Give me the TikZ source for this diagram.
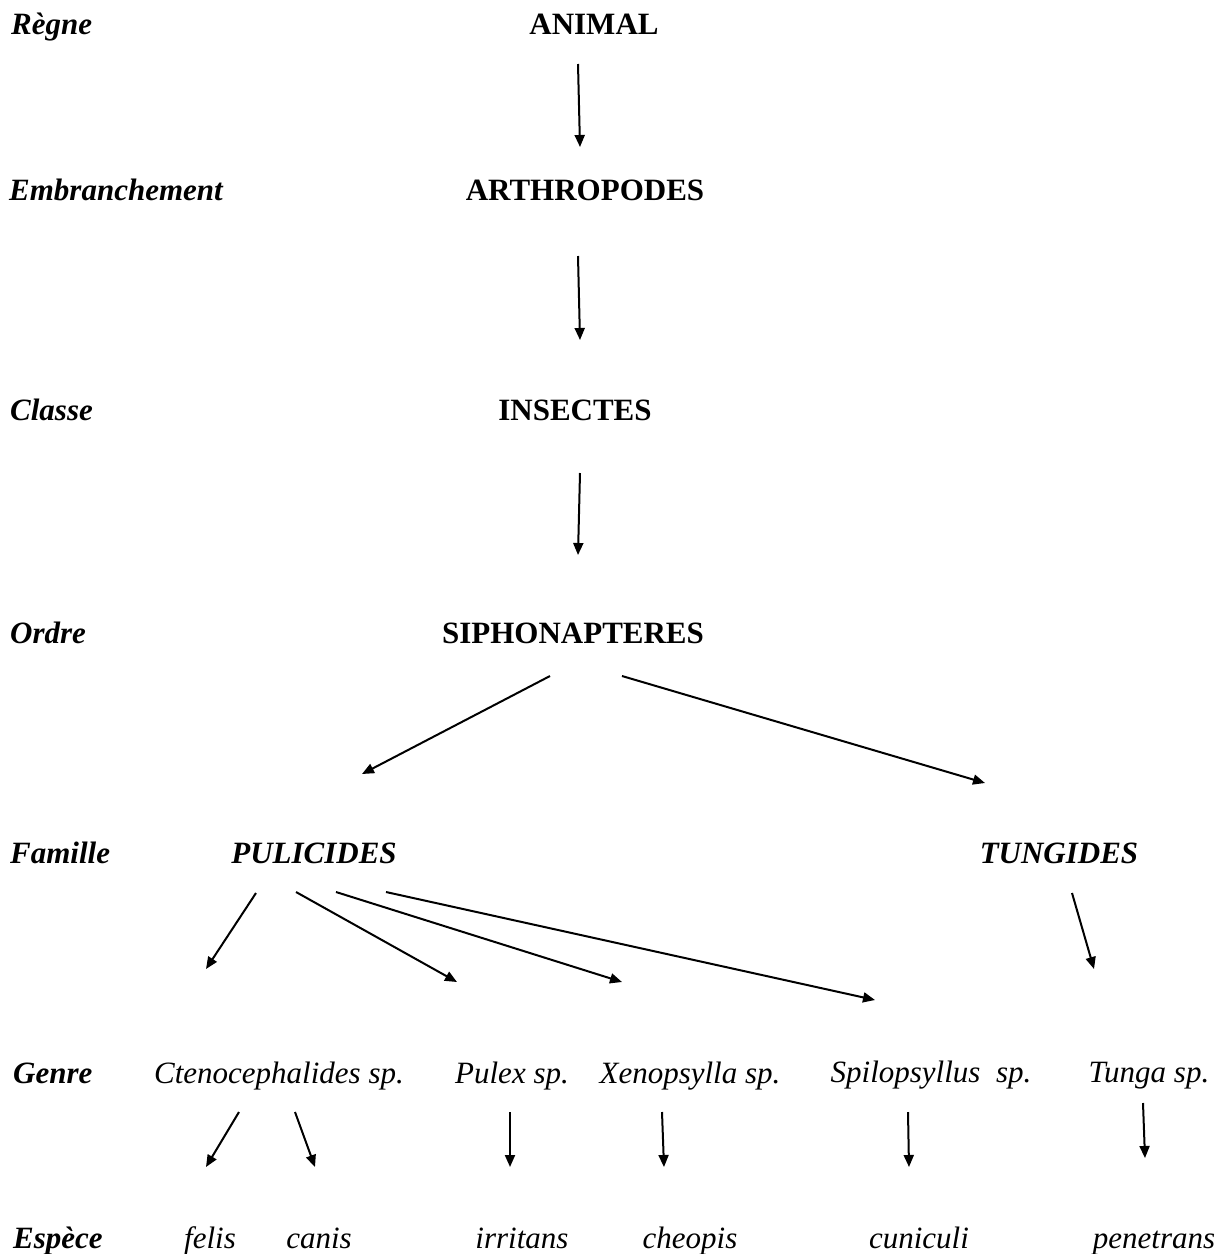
\documentclass[tikz,border=0pt]{standalone}
\usepackage{fontspec}
\setmainfont{Liberation Serif}
\usetikzlibrary{arrows.meta}
\tikzset{
  lbl/.style={anchor=base west, inner sep=0pt, font=\fontsize{31}{37}\selectfont\bfseries\itshape},
  taxb/.style={anchor=base, inner sep=0pt, font=\fontsize{31}{37}\selectfont\bfseries},
  taxbi/.style={anchor=base, inner sep=0pt, font=\fontsize{31}{37}\selectfont\bfseries\itshape},
  taxi/.style={anchor=base, inner sep=0pt, font=\fontsize{31}{37}\selectfont\itshape},
  arr/.style={line width=2pt, -{Triangle[length=12pt,width=10pt]}}
}
\begin{document}
\begin{tikzpicture}[x=1pt,y=-1pt]
\useasboundingbox (0,0) rectangle (1227,1254);
% row labels
\node[lbl] (lr) at (11,34) {Règne};
\node[lbl] (le) at (9,200) {Embranchement};
\node[lbl] (lc) at (10,420) {Classe};
\node[lbl] (lo) at (10,643) {Ordre};
\node[lbl] (lf) at (10,863) {Famille};
\node[lbl] (lg) at (13,1083) {Genre};
\node[lbl] (ls) at (13,1248) {Espèce};
% taxa
\node[taxb] (animal) at (594,34) {ANIMAL};
\node[taxb] (arthro) at (585,200) {ARTHROPODES};
\node[taxb] (insect) at (575,420) {INSECTES};
\node[taxb] (sipho) at (573,643) {SIPHONAPTERES};
\node[taxbi] (puli) at (314,863) {PULICIDES};
\node[taxbi] (tungi) at (1059,863) {TUNGIDES};
\node[taxi] (cteno) at (279,1083) {Ctenocephalides sp.};
\node[taxi] (pulex) at (512,1083) {Pulex sp.};
\node[taxi] (xeno) at (690,1083) {Xenopsylla sp.};
\node[taxi] (spilo) at (931,1082) {Spilopsyllus\ \ sp.};
\node[taxi] (tunga) at (1149,1082) {Tunga sp.};
\node[taxi] (felis) at (210,1248) {felis};
\node[taxi] (canis) at (319,1248) {canis};
\node[taxi] (irrit) at (522,1248) {irritans};
\node[taxi] (cheop) at (690,1248) {cheopis};
\node[taxi] (cunic) at (919,1248) {cuniculi};
\node[taxi] (penet) at (1154,1248) {penetrans};
% arrow end points
\coordinate (a1s) at (578,64);   \coordinate (a1e) at (580,147);
\coordinate (a2s) at (578,256);  \coordinate (a2e) at (580,340);
\coordinate (a3s) at (580,473);  \coordinate (a3e) at (578,555);
\coordinate (a4s) at (550,676);  \coordinate (a4e) at (362,774);
\coordinate (a5s) at (622,676);  \coordinate (a5e) at (985,783);
\coordinate (b1s) at (256,893);  \coordinate (b1e) at (206,969);
\coordinate (b2s) at (296,892);  \coordinate (b2e) at (457,982);
\coordinate (b3s) at (336,892);  \coordinate (b3e) at (622,982);
\coordinate (b4s) at (386,892);  \coordinate (b4e) at (875,1000);
\coordinate (b5s) at (1072,893); \coordinate (b5e) at (1094,969);
\coordinate (c1s) at (239,1112); \coordinate (c1e) at (206,1167);
\coordinate (c2s) at (295,1112); \coordinate (c2e) at (315,1167);
\coordinate (c3s) at (510,1112); \coordinate (c3e) at (510,1167);
\coordinate (c4s) at (662,1112); \coordinate (c4e) at (664,1167);
\coordinate (c5s) at (908,1112); \coordinate (c5e) at (909,1167);
\coordinate (c6s) at (1143,1103); \coordinate (c6e) at (1145,1158);
% arrows
\foreach \a in {a1,a2,a3,a4,a5,b1,b2,b3,b4,b5,c1,c2,c3,c4,c5,c6}
  \draw[arr] (\a s) -- (\a e);
\end{tikzpicture}
\end{document}
